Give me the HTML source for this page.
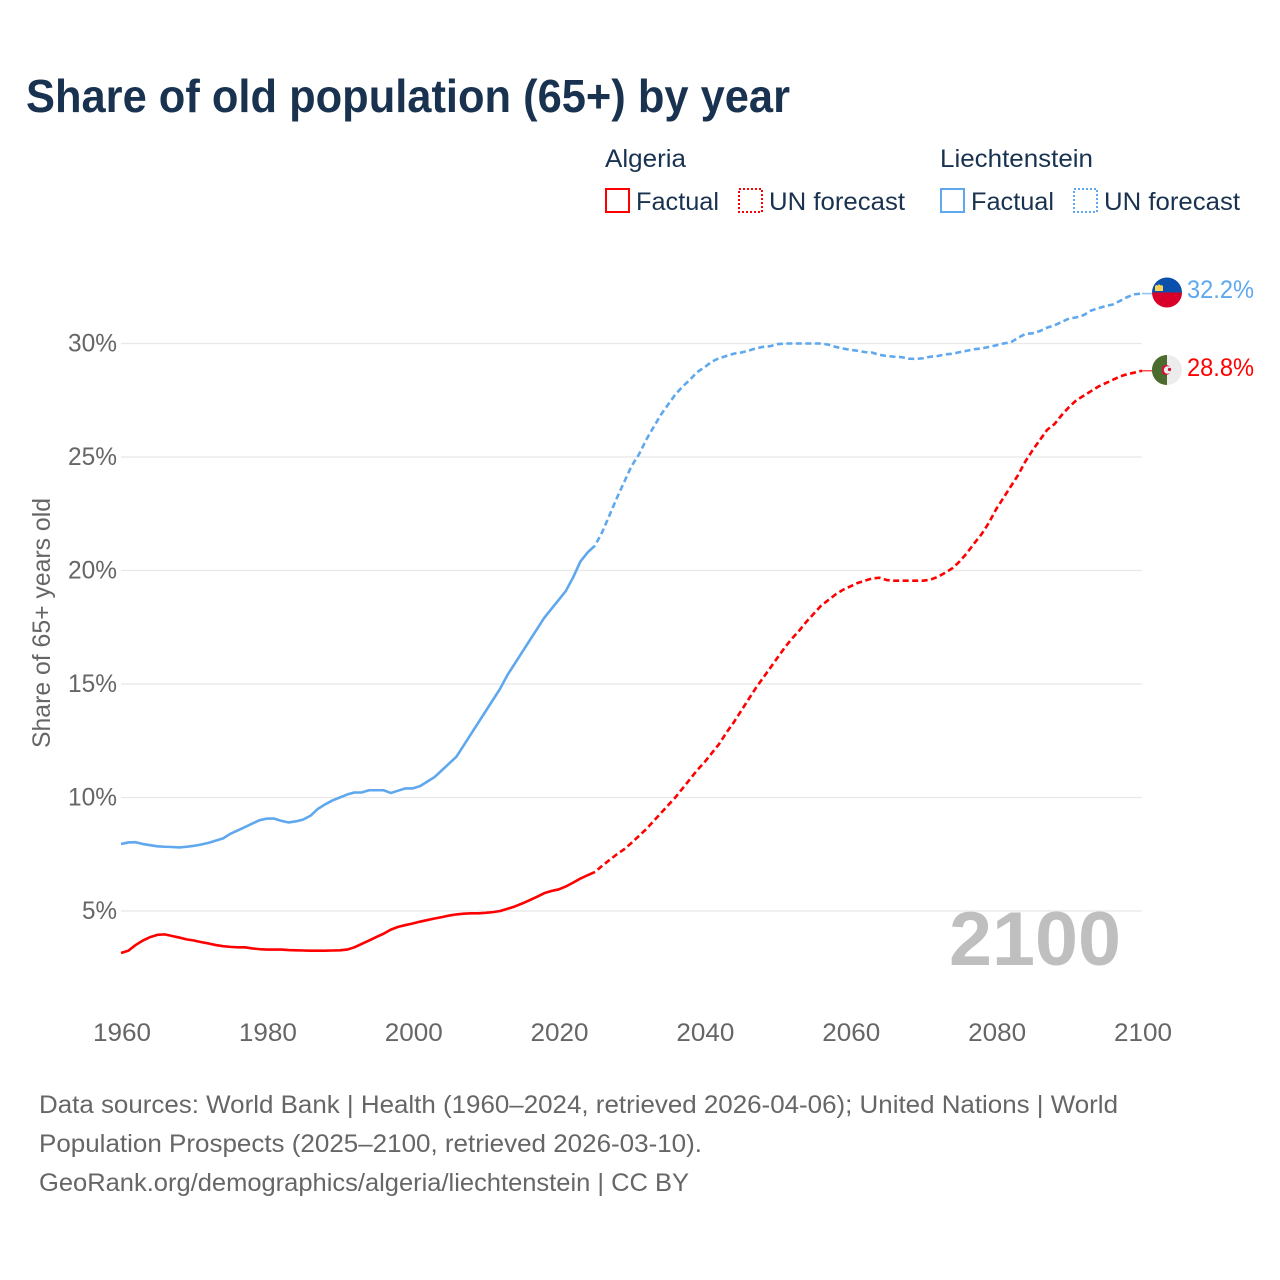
<!DOCTYPE html>
<html lang="en">
<head>
<meta charset="utf-8">
<title>Share of old population (65+) by year</title>
<style>
html,body{margin:0;padding:0;background:#fff;width:1280px;height:1280px;overflow:hidden}
svg{display:block}
text{font-family:"Liberation Sans",sans-serif}
</style>
</head>
<body>
<svg id="chart" xmlns="http://www.w3.org/2000/svg" width="1280" height="1280" viewBox="0 0 1280 1280">
  <rect width="1280" height="1280" fill="#fff"/>
  <text x="26" y="112" font-size="46" font-weight="700" fill="#18324f" textLength="764" lengthAdjust="spacingAndGlyphs">Share of old population (65+) by year</text>

  <g font-size="25" fill="#18324f">
    <text x="605" y="167" textLength="81" lengthAdjust="spacingAndGlyphs">Algeria</text>
    <text x="940" y="167" textLength="153" lengthAdjust="spacingAndGlyphs">Liechtenstein</text>
    <rect x="606" y="189" width="23" height="23" fill="none" stroke="#ff0000" stroke-width="2"/>
    <text x="636" y="210" textLength="83" lengthAdjust="spacingAndGlyphs">Factual</text>
    <rect x="739" y="189" width="23" height="23" fill="none" stroke="#ff0000" stroke-width="2" stroke-dasharray="2 2"/>
    <text x="769" y="210" textLength="136" lengthAdjust="spacingAndGlyphs">UN forecast</text>
    <rect x="941" y="189" width="23" height="23" fill="none" stroke="#5fa8ee" stroke-width="2"/>
    <text x="971" y="210" textLength="83" lengthAdjust="spacingAndGlyphs">Factual</text>
    <rect x="1074" y="189" width="23" height="23" fill="none" stroke="#5fa8ee" stroke-width="2" stroke-dasharray="2 2"/>
    <text x="1104" y="210" textLength="136" lengthAdjust="spacingAndGlyphs">UN forecast</text>
  </g>

  <g id="grid"></g>
  <g id="yticks" font-size="25" fill="#666"></g>
  <g id="xticks" font-size="25" fill="#666"></g>
  <text transform="translate(50,748) rotate(-90)" font-size="25" fill="#666" textLength="250" lengthAdjust="spacingAndGlyphs">Share of 65+ years old</text>

  <text x="949" y="965" font-size="76" font-weight="700" fill="#bfbfbf" textLength="172" lengthAdjust="spacingAndGlyphs">2100</text>

  <g id="series"></g>

  <defs>
    <clipPath id="clip-li"><circle cx="1167" cy="292.5" r="15"/></clipPath>
    <clipPath id="clip-dz"><circle cx="1167" cy="370" r="15"/></clipPath>
  </defs>
  <g clip-path="url(#clip-li)">
    <rect x="1152" y="277" width="30" height="15.500" fill="#0a50ad"/>
    <rect x="1152" y="292.500" width="30" height="16" fill="#d8002b"/>
    <path d="M1155 291v-5l1.500-1 1.500 0.500 1-1.700 1 1.700 1.500-0.500 1.500 1v5z" fill="#f7d451"/>
  </g>
  <g clip-path="url(#clip-dz)">
    <rect x="1152" y="355" width="15" height="30" fill="#4c6c2f"/>
    <rect x="1167" y="355" width="15" height="30" fill="#ececec"/>
    <circle cx="1166" cy="370" r="5" fill="#d21034"/>
    <circle cx="1167.600" cy="370" r="3.800" fill="#ececec"/>
    <rect x="1152" y="355" width="10" height="30" fill="#4c6c2f"/>
    <circle cx="1169.500" cy="369.500" r="1.600" fill="#d21034"/>
  </g>
  <text id="label-li" x="1187" y="298" font-size="25" fill="#5fa8ee" textLength="67" lengthAdjust="spacingAndGlyphs"></text>
  <text id="label-dz" x="1187" y="376" font-size="25" fill="#ff0000" textLength="67" lengthAdjust="spacingAndGlyphs"></text>

  <g font-size="25" fill="#666">
    <text x="39" y="1113" textLength="1079" lengthAdjust="spacingAndGlyphs">Data sources: World Bank | Health (1960–2024, retrieved 2026-04-06); United Nations | World</text>
    <text x="39" y="1152" textLength="663" lengthAdjust="spacingAndGlyphs">Population Prospects (2025–2100, retrieved 2026-03-10).</text>
    <text x="39" y="1191" textLength="650" lengthAdjust="spacingAndGlyphs">GeoRank.org/demographics/algeria/liechtenstein | CC BY</text>
  </g>
</svg>
<script>
const xTickYears = [1960, 1980, 2000, 2020, 2040, 2060, 2080, 2100];
const yTickValues = [5, 10, 15, 20, 25, 30];

const factualStartYear = 1960;
const forecastStartYear = 2025;

const algeriaFactual = [3.15,3.25,3.5,3.7,3.85,3.95,3.97,3.9,3.83,3.75,3.7,3.63,3.57,3.5,3.45,3.42,3.4,3.4,3.35,3.32,
  3.3,3.3,3.3,3.28,3.27,3.26,3.25,3.25,3.25,3.26,3.27,3.3,3.4,3.55,3.7,3.85,4.0,4.18,4.3,4.38,
  4.45,4.53,4.6,4.67,4.73,4.8,4.85,4.88,4.9,4.9,4.92,4.95,5.0,5.1,5.2,5.33,5.47,5.62,5.78,5.88,
  5.95,6.08,6.25,6.43,6.58,6.72];
const algeriaForecast = [6.72,7.0,7.25,7.5,7.72,8.0,8.3,8.6,8.95,9.3,9.65,10.0,10.4,10.8,11.2,11.55,11.95,12.35,12.85,13.3,
  13.8,14.3,14.8,15.25,15.7,16.15,16.6,17.0,17.35,17.75,18.1,18.45,18.7,18.95,19.15,19.3,19.45,19.55,19.65,19.68,
  19.58,19.55,19.55,19.55,19.55,19.55,19.6,19.72,19.9,20.1,20.4,20.77,21.2,21.6,22.1,22.7,23.2,23.7,24.2,24.8,
  25.3,25.75,26.2,26.45,26.85,27.2,27.5,27.7,27.9,28.1,28.25,28.4,28.55,28.65,28.72,28.8];

const liechtensteinFactual = [7.95,8.02,8.03,7.95,7.9,7.85,7.83,7.82,7.8,7.83,7.87,7.93,8.0,8.1,8.2,8.4,8.55,8.7,8.85,9.0,
  9.07,9.07,8.97,8.9,8.95,9.03,9.2,9.5,9.7,9.87,10.0,10.13,10.22,10.22,10.32,10.32,10.32,10.2,10.3,10.4,
  10.4,10.5,10.7,10.9,11.2,11.5,11.8,12.3,12.8,13.3,13.8,14.3,14.8,15.4,15.9,16.4,16.9,17.4,17.9,18.3,
  18.7,19.1,19.7,20.4,20.8,21.1];
const liechtensteinForecast = [21.1,21.7,22.45,23.2,23.9,24.6,25.1,25.75,26.3,26.85,27.3,27.75,28.1,28.4,28.74,28.95,29.2,29.35,29.45,29.55,
  29.6,29.68,29.78,29.85,29.88,29.97,30.0,30.0,30.0,30.0,30.0,30.0,29.95,29.85,29.78,29.72,29.68,29.62,29.6,29.5,
  29.45,29.42,29.4,29.33,29.32,29.35,29.42,29.45,29.52,29.55,29.62,29.68,29.75,29.78,29.85,29.92,30.0,30.05,30.25,30.42,
  30.45,30.55,30.7,30.8,30.95,31.1,31.15,31.25,31.45,31.55,31.65,31.72,31.88,32.05,32.17,32.2];

const algeriaLabel = "28.8%";
const liechtensteinLabel = "32.2%";

const SVG_NS = "http://www.w3.org/2000/svg";
const COLOR_ALGERIA = "#ff0000";
const COLOR_LIECHTENSTEIN = "#5fa8ee";

function xScale(year) { return 121 + (year - 1960) * (1142 - 121) / 140; }
function yScale(value) { return 911 - (value - 5) * (911 - 343.5) / 25; }

function linePath(startYear, values) {
  return values.map(function (v, i) {
    return (i === 0 ? "M" : "L") + xScale(startYear + i).toFixed(2) + " " + yScale(v).toFixed(2);
  }).join("");
}

const gridGroup = document.getElementById("grid");
const yGroup = document.getElementById("yticks");
const xGroup = document.getElementById("xticks");
const seriesGroup = document.getElementById("series");

yTickValues.forEach(function (v) {
  const line = document.createElementNS(SVG_NS, "line");
  
  
  line.setAttribute("x1", 121);
  line.setAttribute("x2", 1142);
  line.setAttribute("y1", yScale(v));
  line.setAttribute("y2", yScale(v));
  line.setAttribute("stroke", "#e8e8e8");
  line.setAttribute("stroke-width", "1.300");
  gridGroup.appendChild(line);

  const label = document.createElementNS(SVG_NS, "text");
  
  
  label.setAttribute("x", v < 10 ? 82 : 68);
  label.setAttribute("y", yScale(v) + 8);
  label.setAttribute("textLength", v < 10 ? 35 : 49);
  label.setAttribute("lengthAdjust", "spacingAndGlyphs");
  label.textContent = v + "%";
  yGroup.appendChild(label);
});

xTickYears.forEach(function (year) {
  const label = document.createElementNS(SVG_NS, "text");
  
  
  label.setAttribute("x", xScale(year) - 28);
  label.setAttribute("y", 1041);
  label.setAttribute("textLength", 58);
  label.setAttribute("lengthAdjust", "spacingAndGlyphs");
  label.textContent = year;
  xGroup.appendChild(label);
});

function drawLine(d, color, dashed) {
  const path = document.createElementNS(SVG_NS, "path");
  path.setAttribute("d", d);
  path.setAttribute("fill", "none");
  path.setAttribute("stroke", color);
  path.setAttribute("stroke-width", "2.600");
  path.setAttribute("stroke-linejoin", "round");
  if (dashed) {
    path.setAttribute("stroke-dasharray", "6 3.500");
    path.setAttribute("stroke-dashoffset", "6");
  }
  seriesGroup.appendChild(path);
  return path;
}

const lineA = drawLine(linePath(factualStartYear, liechtensteinFactual), COLOR_LIECHTENSTEIN, false);


const lineB = drawLine(linePath(forecastStartYear, liechtensteinForecast), COLOR_LIECHTENSTEIN, true);


const lineC = drawLine(linePath(factualStartYear, algeriaFactual), COLOR_ALGERIA, false);


const lineD = drawLine(linePath(forecastStartYear, algeriaForecast), COLOR_ALGERIA, true);



function connector(values, color) {
  const last = values[values.length - 1];
  const c = document.createElementNS(SVG_NS, "line");
  c.setAttribute("x1", xScale(2100));
  c.setAttribute("x2", 1153);
  c.setAttribute("y1", yScale(last));
  c.setAttribute("y2", yScale(last));
  c.setAttribute("stroke", color);
  c.setAttribute("stroke-width", "1.500");
  c.setAttribute("stroke-opacity", "0.700");
  seriesGroup.appendChild(c);
  return c;
}
const connA = connector(liechtensteinForecast, COLOR_LIECHTENSTEIN);


const connB = connector(algeriaForecast, COLOR_ALGERIA);



document.getElementById("label-li").textContent = liechtensteinLabel;
document.getElementById("label-dz").textContent = algeriaLabel;
</script>
</body>
</html>
